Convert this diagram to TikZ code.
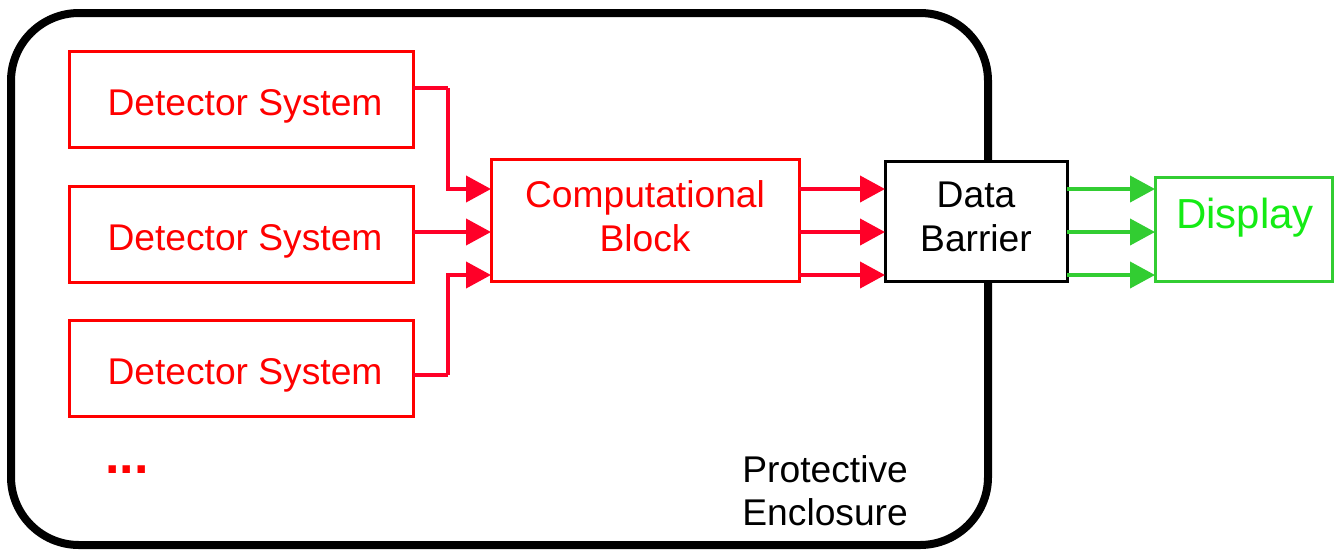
\documentclass[tikz,border=0pt]{standalone}
\usepackage{fontspec}
\setmainfont{Liberation Sans}
\usetikzlibrary{arrows.meta,positioning}
\definecolor{rbox}{RGB}{255,0,0}
\definecolor{rarr}{RGB}{255,0,40}
\definecolor{gbox}{RGB}{50,205,50}
\definecolor{gtext}{RGB}{20,235,20}
\tikzset{
  redbox/.style={draw=rbox,line width=1.5pt,rectangle,inner sep=0pt,outer sep=0pt},
  blackbox/.style={draw=black,fill=white,line width=1.5pt,rectangle,inner sep=0pt,outer sep=0pt},
  greenbox/.style={draw=gbox,line width=1.5pt,rectangle,inner sep=0pt,outer sep=0pt},
  lbl/.style={font=\fontsize{18.6pt}{22pt}\selectfont,anchor=base,inner sep=0pt},
  redarr/.style={draw=rarr,line width=2pt,-{Triangle[length=12.5pt,width=13pt]}},
  greenarr/.style={draw=gbox,line width=2pt,-{Triangle[length=12.5pt,width=13pt]}},
  redline/.style={draw=rarr,line width=2pt},
}
\begin{document}
\begin{tikzpicture}[x=0.5pt,y=-0.5pt]
\useasboundingbox (0,0) rectangle (1336,552);
% enclosure
\draw[line width=4pt,rounded corners=34pt] (11,13) rectangle (988,545);
% detector boxes
\node[redbox,minimum width=172pt,minimum height=48pt] (d1) at (241,99) {};
\node[redbox,minimum width=172pt,minimum height=48pt] (d2) at (241,234) {};
\node[redbox,minimum width=172pt,minimum height=48pt] (d3) at (241,368.5) {};
\node[lbl,text=rbox] (t1) at (245,115) {Detector System};
\node[lbl,text=rbox] (t2) at (245,250) {Detector System};
\node[lbl,text=rbox] (t3) at (245,384) {Detector System};
% computational block
\node[redbox,minimum width=154pt,minimum height=61pt] (cb) at (645,220) {};
\node[lbl,text=rbox] (cbt1) at (645,207) {Computational};
\node[lbl,text=rbox] (cbt2) at (645,251) {Block};
% data barrier
\node[blackbox,minimum width=91pt,minimum height=60pt] (db) at (976,221) {};
\node[lbl] (dbt1) at (976,207) {Data};
\node[lbl] (dbt2) at (976,251) {Barrier};
% display
\node[greenbox,minimum width=88.5pt,minimum height=52pt] (disp) at (1243.5,229) {};
\node[lbl,text=gtext,font=\fontsize{21pt}{24pt}\selectfont] (dispt) at (1245,228) {Display};
% enclosure label
\node[lbl,anchor=base west] (pe1) at (742,482) {Protective};
\node[lbl,anchor=base west] (pe2) at (742,525) {Enclosure};
% dots
\node[font=\fontsize{26pt}{28pt}\selectfont\bfseries,text=rbox,anchor=base west,inner sep=0pt] (dots) at (105,473) {...};
% detector to computational
\coordinate (j1) at (448,88);
\coordinate (j3) at (448,375);
\draw[redline] (d1.east |- j1) -- (j1);
\draw[redarr] (j1) |- (cb.west |- 0,189);
\draw[redarr] (d2.east |- 0,232) -- (cb.west |- 0,232);
\draw[redline] (d3.east |- j3) -- (j3);
\draw[redarr] (j3) |- (cb.west |- 0,275);
% computational to barrier
\draw[redarr] (cb.east |- 0,189) -- (db.west |- 0,189);
\draw[redarr] (cb.east |- 0,232) -- (db.west |- 0,232);
\draw[redarr] (cb.east |- 0,275) -- (db.west |- 0,275);
% barrier to display
\draw[greenarr] (db.east |- 0,189) -- (disp.west |- 0,189);
\draw[greenarr] (db.east |- 0,232) -- (disp.west |- 0,232);
\draw[greenarr] (db.east |- 0,275) -- (disp.west |- 0,275);
\end{tikzpicture}
\end{document}
